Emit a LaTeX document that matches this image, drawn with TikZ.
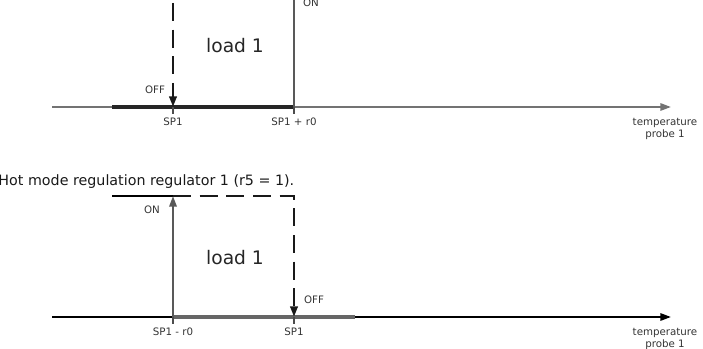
\documentclass[tikz,border=0pt]{standalone}
\usepackage{fontspec}
\setmainfont{DejaVu Sans}
\usetikzlibrary{arrows.meta}

\tikzset{every picture/.style={line width=0.75pt}}
\tikzset{
  axisline/.style={line width=1.5pt, -{Triangle[length=8pt,width=5.5pt]}},
  heavyline/.style={line width=2.4pt, line cap=butt},
  riseline/.style={line width=1.6pt},
  dashline/.style={line width=2.2pt, dash pattern=on 13.5pt off 6.5pt},
  tiptri/.style={-{Triangle[length=8pt,width=5.5pt]}},
  smalllbl/.style={inner sep=0.75pt, font=\fontsize{7.7}{9.2}\selectfont, text=black!80},
  loadlbl/.style={inner sep=0.75pt, font=\fontsize{14}{17}\selectfont, text=black!85},
  captionlbl/.style={inner sep=0.75pt, font=\fontsize{10.7}{12}\selectfont, text=black!90}
}

\begin{document}
\begin{tikzpicture}[x=0.75pt,y=0.75pt,yscale=-1,xscale=1]
\useasboundingbox (0,0) rectangle (703,349);
\clip (0,0) rectangle (703,349);

%% upper diagram: cold mode
% axis
\coordinate (ua0) at (52,107);
\coordinate (ua1) at (671,107);
\coordinate (uh0) at (112,107);
\coordinate (usp) at (173,107);
\coordinate (usr) at (294,107);
\coordinate (uspt) at (173,3);
\coordinate (usrt) at (294,-5);
\draw [axisline, color=black!55] (ua0) -- (ua1);
\draw [heavyline, color=black!85] (uh0) -- (usr);
% ticks
\draw [line width=1pt, color=black!70] (usp) -- ++(0,7);
\draw [line width=1pt, color=black!70] (usr) -- ++(0,7);
% switching lines
\draw [dashline, color=black!90, tiptri] (uspt) -- (usp);
\draw [riseline, color=black!65] (usrt) -- (usr);

% Text Node
\node [smalllbl] (uoff) at (155,90) {OFF};
\node [smalllbl] (uon) at (311,2.5) {ON};
\node [loadlbl] (uload) at (235,46) {load 1};
\node [smalllbl] (usplbl) at (173,122) {SP1};
\node [smalllbl] (usrlbl) at (294,122) {SP1 + r0};
\node [smalllbl, align=center] (uprobe) at (665,129) {temperature\\probe 1};

%% caption
\node [captionlbl, anchor=west] (capt) at (-3,182) {Hot mode regulation regulator 1 (r5 = 1).};

%% lower diagram: hot mode
% axis
\coordinate (la0) at (52,317);
\coordinate (la1) at (671,317);
\coordinate (lsr) at (173,317);
\coordinate (lsp) at (294,317);
\coordinate (lh1) at (355,317);
\coordinate (lt0) at (112,196);
\coordinate (lsrt) at (173,196);
\coordinate (lspt) at (294,196);
\draw [axisline, color=black] (la0) -- (la1);
\draw [heavyline, color=black!60] (lsr) -- (lh1);
% ticks
\draw [line width=1pt, color=black!70] (lsr) -- ++(0,7);
\draw [line width=1pt, color=black!70] (lsp) -- ++(0,7);
% switching lines
\draw [line width=1.5pt, color=black] (lt0) -- (lsrt);
\draw [riseline, color=black!65, tiptri] (lsr) -- (lsrt);
\draw [dashline, color=black!90, tiptri] (lsrt) -- (lspt) -- (lsp);

% Text Node
\node [smalllbl] (lon) at (152,210) {ON};
\node [smalllbl] (loff) at (314,300) {OFF};
\node [loadlbl] (lload) at (235,258) {load 1};
\node [smalllbl] (lsrlbl) at (173,332) {SP1 - r0};
\node [smalllbl] (lsplbl) at (294,332) {SP1};
\node [smalllbl, align=center] (lprobe) at (665,339) {temperature\\probe 1};

\end{tikzpicture}
\end{document}
